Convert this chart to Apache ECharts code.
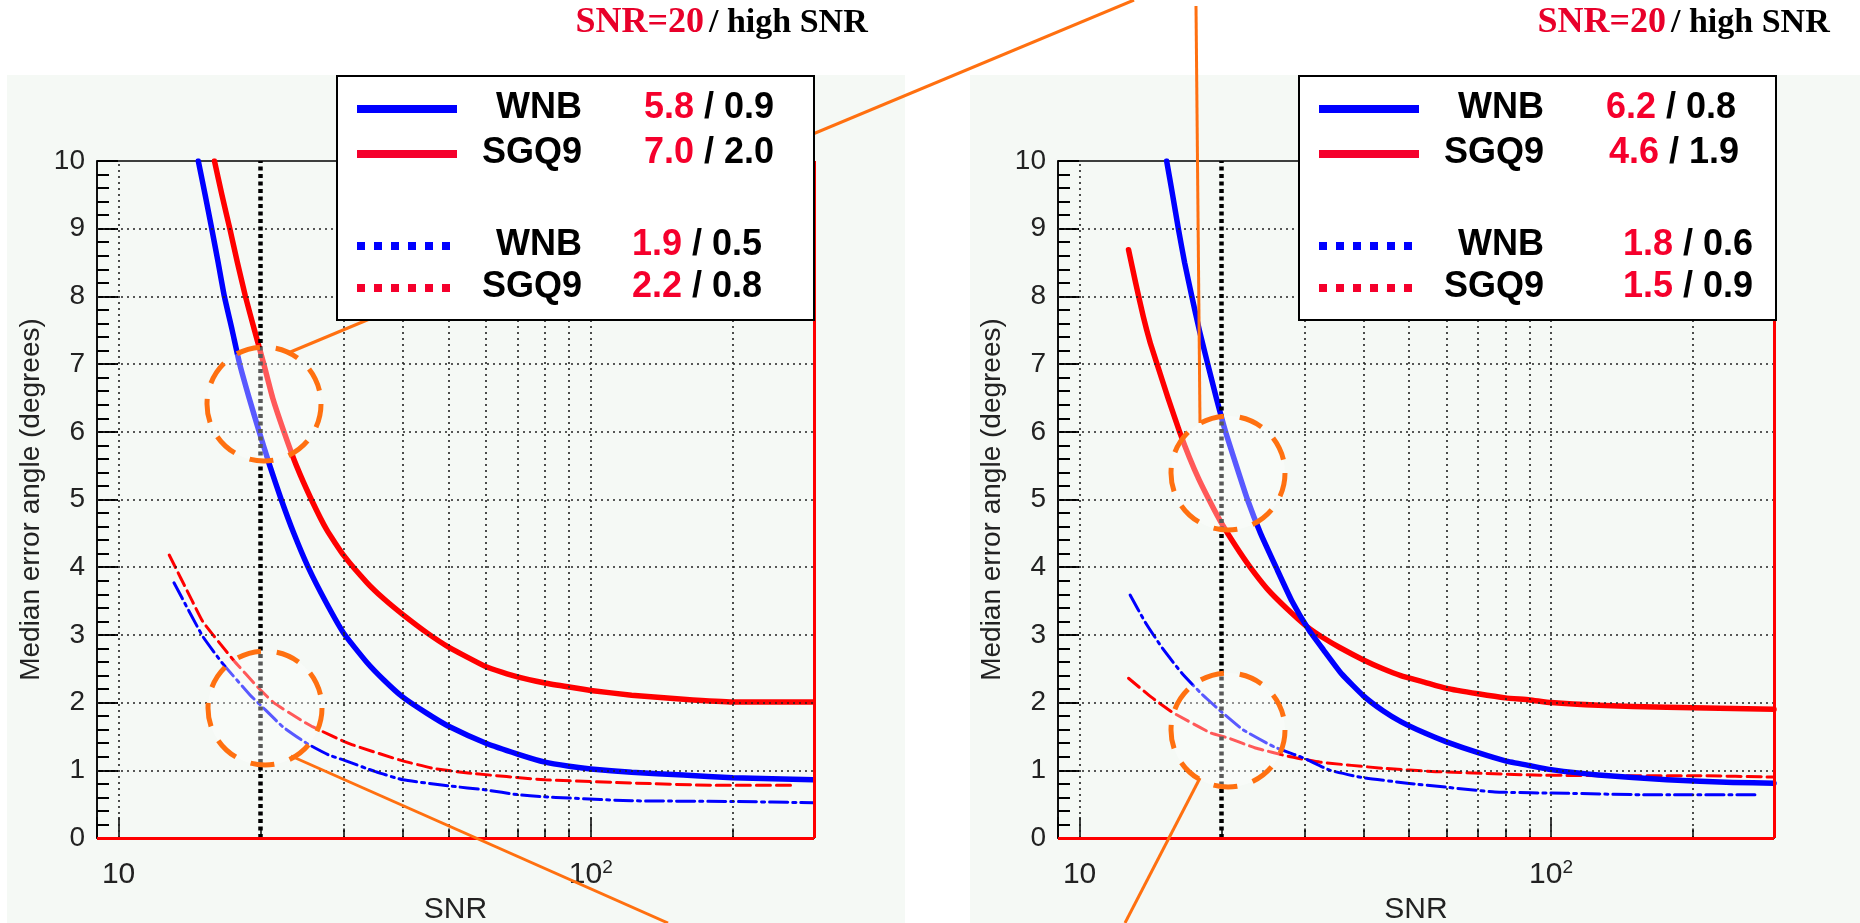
<!DOCTYPE html>
<html><head><meta charset="utf-8">
<script src="https://cdn.jsdelivr.net/npm/echarts@6/dist/echarts.min.js"></script>
<style>html,body{margin:0;padding:0;background:#fff}#c{width:1860px;height:923px}</style>
</head><body><div id="c"></div>
<script>
// ---------------- data (SNR, median error angle in degrees) ----------------
const leftWnbSolid = [[14.75,10],[15.25,9.5],[15.75,9.0],[16.25,8.5],[16.75,8.0],[17.4,7.5],[18.05,7.0],[18.9,6.5],[19.85,6.0],[20.9,5.5],[22.1,5.0],[23.5,4.5],[25.2,4.0],[27.4,3.5],[30,3.02],[33.5,2.6],[36.5,2.33],[40,2.08],[45,1.84],[50,1.65],[60,1.40],[70,1.24],[80,1.12],[90,1.06],[100,1.02],[122,0.97],[157,0.93],[200,0.89],[296,0.86]];
const leftSgqSolid = [[15.96,10],[16.55,9.5],[17.2,9.0],[17.85,8.5],[18.56,8.0],[19.4,7.5],[20.3,7.0],[21.2,6.5],[22.4,6.0],[23.8,5.5],[25.6,5.0],[27.6,4.55],[30,4.17],[33.6,3.77],[36.5,3.53],[40,3.30],[45,3.03],[50,2.82],[60,2.53],[70,2.38],[80,2.29],[90,2.23],[100,2.18],[122,2.11],[157,2.05],[200,2.01],[296,2.01]];
const leftWnbDot = [[13.1,3.77],[14.1,3.35],[15.1,2.97],[16.6,2.58],[19.0,2.11],[20,1.96],[22.3,1.64],[25,1.40],[27.8,1.23],[30,1.15],[35,0.98],[40,0.86],[50,0.77],[60,0.71],[70,0.64],[79,0.61],[90,0.59],[122,0.55],[200,0.54],[296,0.52]];
const leftSgqDot = [[12.8,4.18],[14.3,3.51],[15.1,3.19],[17.5,2.63],[19.7,2.23],[21.3,2.0],[24.5,1.73],[25.8,1.64],[30.9,1.39],[39.5,1.15],[46.3,1.03],[55,0.96],[80,0.86],[125,0.81],[180,0.78],[270,0.78]];

const rightWnbSolid = [[15.3,10],[15.75,9.5],[16.2,9.0],[16.7,8.5],[17.3,8.0],[17.95,7.5],[18.7,7.0],[19.5,6.5],[20.4,6.0],[21.5,5.5],[22.7,5.0],[24.2,4.5],[26.1,4.0],[28.2,3.5],[30.6,3.08],[32.9,2.78],[36,2.42],[40,2.10],[44,1.88],[48,1.72],[54,1.55],[60,1.42],[70,1.26],[80,1.14],[90,1.07],[100,1.01],[126,0.93],[176,0.86],[243,0.82],[297,0.81]];
const rightSgqSolid = [[12.7,8.69],[13.15,8.2],[13.65,7.7],[14.1,7.33],[14.6,7.0],[15.4,6.5],[16.3,6.0],[17.1,5.62],[17.9,5.3],[18.9,4.97],[20.0,4.65],[21.4,4.32],[23,4.0],[25,3.68],[27.5,3.39],[30.4,3.12],[33,2.95],[35.7,2.81],[40,2.63],[44,2.5],[48,2.40],[54,2.30],[60,2.21],[70,2.13],[80,2.07],[90,2.04],[100,2.0],[126,1.96],[176,1.93],[297,1.90]];
const rightWnbDot = [[12.8,3.59],[13.8,3.18],[15.0,2.80],[16.5,2.43],[18.2,2.12],[20.1,1.85],[22.2,1.60],[25.8,1.35],[29.9,1.18],[34,1.0],[40,0.89],[49.5,0.81],[60,0.75],[76,0.68],[108,0.66],[155,0.64],[277,0.64]];
const rightSgqDot = [[12.7,2.36],[14.2,2.08],[15.8,1.85],[19.0,1.55],[20.6,1.48],[23.6,1.33],[28,1.20],[32.4,1.12],[44,1.03],[57,0.98],[92,0.93],[138,0.92],[207,0.92],[295,0.90]];

// axes / ticks
const xMin = 9, xMax = 297, yMin = 0, yMax = 10;
const xGridValues = [10,30,40,50,60,70,80,90,100,200];
const xMinorTicks = [20,30,40,50,60,70,80,90,200];
const yGridValues = [1,2,3,4,5,6,7,8,9];
const markerSNR = 20;

// legend texts
const legendNames = ['WNB','SGQ9','WNB','SGQ9'];
const leftLegendSNR20 = ['5.8','7.0','1.9','2.2'];
const leftLegendHigh = ['0.9','2.0','0.5','0.8'];
const rightLegendSNR20 = ['6.2','4.6','1.8','1.5'];
const rightLegendHigh = ['0.8','1.9','0.6','0.9'];
const titleRed = 'SNR=20';
const titleBlack = '/ high SNR';

// ---------------- styling ----------------
const SANS = '"Liberation Sans", Arial, Helvetica, sans-serif';
const SERIF = '"Liberation Serif", "DejaVu Serif", serif';
const BLUE = '#0000ff', RED = '#ff0000', LRED = '#f5002c', ORANGE = '#ff7010', BG = '#f5f9f5';

const grids = [
  {left: 97, top: 161, width: 717, height: 677},
  {left: 1058, top: 161, width: 716, height: 677}
];

function xAxisFor(i) {
  return {
    type: 'log', logBase: 10, gridIndex: i, min: xMin, max: xMax,
    axisLine: {show: true, onZero: false, lineStyle: {color: '#000', width: 1.5}},
    axisTick: {show: true, inside: true, length: 21, lineStyle: {color: '#000', width: 1.5}},
    axisLabel: {
      margin: 20, color: '#222', fontFamily: SANS,
      formatter: function (v) {
        if (Math.abs(v - 10) < 1e-6) return '{b|10}';
        if (Math.abs(v - 100) < 1e-6) return '{b|10}{s|2}';
        return '';
      },
      rich: {
        b: {fontSize: 30, fontFamily: SANS, color: '#222', lineHeight: 34},
        s: {fontSize: 19, fontFamily: SANS, color: '#222', lineHeight: 19, verticalAlign: 'top'}
      }
    },
    splitLine: {show: false},
    name: 'SNR', nameLocation: 'middle', nameGap: 57, nameMoveOverlap: false,
    nameTextStyle: {fontSize: 30, fontFamily: SANS, color: '#222'}
  };
}
function yAxisFor(i) {
  return {
    type: 'value', gridIndex: i, min: yMin, max: yMax, interval: 1,
    axisLine: {show: true, lineStyle: {color: '#000', width: 1.5}},
    axisTick: {show: true, inside: true, length: 21, lineStyle: {color: '#000', width: 2}},
    minorTick: {show: true, splitNumber: 5, length: 12, lineStyle: {color: '#000', width: 2}},
    axisLabel: {fontSize: 28, fontFamily: SANS, color: '#222', margin: 12},
    splitLine: {show: false},
    name: 'Median error angle (degrees)', nameLocation: 'middle', nameGap: 52, nameMoveOverlap: false,
    nameTextStyle: {fontSize: 28, fontFamily: SANS, color: '#222'}
  };
}

function gridSeries(i) {
  return [{
    type: 'line', xAxisIndex: i, yAxisIndex: i, data: [], silent: true, z: 1,
    markLine: {
      symbol: 'none', silent: true, animation: false, label: {show: false},
      emphasis: {disabled: true},
      lineStyle: {color: '#222', width: 1.6, type: [2, 4]},
      data: xGridValues.map(v => ({xAxis: v})).concat(yGridValues.map(v => ({yAxis: v})))
    }
  }, {
    type: 'line', xAxisIndex: i, yAxisIndex: i, data: [], silent: true, z: 6,
    markLine: {
      symbol: 'none', silent: true, animation: false, label: {show: false},
      emphasis: {disabled: true},
      lineStyle: {color: '#000', width: 1.5, type: 'solid'},
      data: xMinorTicks.map(v => [{coord: [v, 0]}, {coord: [v, 0.14]}]).concat([
        {xAxis: markerSNR, lineStyle: {color: '#000', width: 4.5, type: [4, 3.5]}},
        {yAxis: 0, lineStyle: {color: RED, width: 3, type: 'solid'}},
        {xAxis: xMax, lineStyle: {color: RED, width: 3, type: 'solid'}}
      ])
    }
  }];
}
function curve(i, data, color, width, dash, z) {
  return {
    type: 'line', xAxisIndex: i, yAxisIndex: i, data: data, showSymbol: false, silent: true,
    smooth: 0.15, z: z,
    lineStyle: {color: color, width: width, type: dash, join: 'round', cap: 'round'}
  };
}

const series = [].concat(
  gridSeries(0), gridSeries(1),
  [
    curve(0, leftSgqDot, RED, 3, [14, 6], 3),
    curve(0, leftWnbDot, BLUE, 3, [18, 5, 3, 5], 3),
    curve(0, leftSgqSolid, RED, 5.5, 'solid', 4),
    curve(0, leftWnbSolid, BLUE, 5.5, 'solid', 4),
    curve(1, rightSgqDot, RED, 3, [14, 6], 3),
    curve(1, rightWnbDot, BLUE, 3, [18, 5, 3, 5], 3),
    curve(1, rightSgqSolid, RED, 5.5, 'solid', 4),
    curve(1, rightWnbSolid, BLUE, 5.5, 'solid', 4)
  ]
);

// ---------------- graphic decorations ----------------
function legendGraphic(x0, names, v20, vHigh, splits) {
  const els = [];
  els.push({type: 'rect', z: 50, shape: {x: x0, y: 76, width: 477, height: 244},
    style: {fill: '#fff', stroke: '#000', lineWidth: 2}});
  const rowsY = [109, 154, 246, 288];
  const colors = [BLUE, LRED, BLUE, LRED];
  const dashes = [null, null, [8, 9], [8, 9]];
  for (let k = 0; k < 4; k++) {
    els.push({type: 'line', z: 51, shape: {x1: x0 + 20, y1: rowsY[k], x2: x0 + 120, y2: rowsY[k]},
      style: {stroke: colors[k], lineWidth: 8, lineDash: dashes[k]}});
    els.push({type: 'text', z: 51, style: {text: names[k], x: x0 + 245, y: rowsY[k] - 1,
      textAlign: 'right', textVerticalAlign: 'middle', fill: '#000', font: 'bold 36px ' + SANS}});
    els.push({type: 'text', z: 51, style: {text: v20[k], x: x0 + splits[k], y: rowsY[k] - 1,
      textAlign: 'right', textVerticalAlign: 'middle', fill: LRED, font: 'bold 36px ' + SANS}});
    els.push({type: 'text', z: 51, style: {text: ' / ' + vHigh[k], x: x0 + splits[k], y: rowsY[k] - 1,
      textAlign: 'left', textVerticalAlign: 'middle', fill: '#000', font: 'bold 36px ' + SANS}});
  }
  return els;
}
function titleGraphic(splitX) {
  return [
    {type: 'text', z: 51, style: {text: titleRed, x: splitX, y: 23, textAlign: 'right', textVerticalAlign: 'middle',
      fill: '#e8002a', font: 'bold 36px ' + SERIF}},
    {type: 'text', z: 51, style: {text: titleBlack, x: splitX + 5, y: 23, textAlign: 'left', textVerticalAlign: 'middle',
      fill: '#000', font: 'bold 34px ' + SERIF}}
  ];
}
function ring(cx, cy) {
  return {type: 'circle', z: 40, shape: {cx: cx, cy: cy, r: 57},
    style: {fill: 'rgba(255,255,255,0.35)', stroke: ORANGE, lineWidth: 5, lineDash: [24, 16]}};
}
function seg(x1, y1, x2, y2) {
  return {type: 'line', z: 40, shape: {x1: x1, y1: y1, x2: x2, y2: y2},
    style: {stroke: ORANGE, lineWidth: 3}};
}

const graphic = [].concat(
  [
    {type: 'rect', z: -10, shape: {x: 7, y: 75, width: 898, height: 848}, style: {fill: BG}},
    {type: 'rect', z: -10, shape: {x: 970, y: 75, width: 890, height: 848}, style: {fill: BG}}
  ],
  [ring(264, 404), ring(265, 708), ring(1228, 473), ring(1228, 730),
   seg(288, 353, 1134, 0), seg(291, 756, 668, 923), seg(1200, 423, 1196, 6), seg(1200, 778, 1125, 923)],
  legendGraphic(337, legendNames, leftLegendSNR20, leftLegendHigh, [357, 357, 345, 345]),
  legendGraphic(1299, legendNames, rightLegendSNR20, rightLegendHigh, [357, 360, 374, 374]),
  titleGraphic(704), titleGraphic(1666)
);

const chart = echarts.init(document.getElementById('c'), null, {renderer: 'canvas'});
chart.setOption({
  animation: false,
  backgroundColor: '#fff',
  grid: grids.map(g => Object.assign({show: true, borderColor: '#000', borderWidth: 1.5,
    backgroundColor: 'transparent', containLabel: false, outerBoundsMode: 'none'}, g)),
  xAxis: [xAxisFor(0), xAxisFor(1)],
  yAxis: [yAxisFor(0), yAxisFor(1)],
  series: series,
  graphic: graphic
});
</script></body></html>
